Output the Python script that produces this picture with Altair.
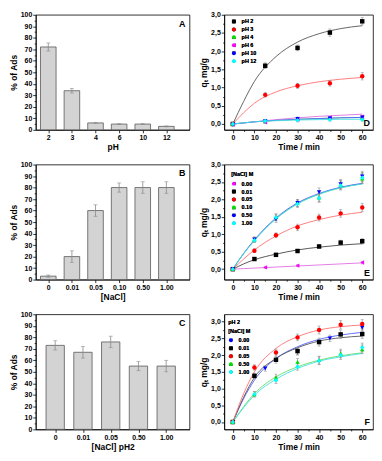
import altair as alt
import pandas as pd

FONT = "Liberation Sans"

# ---------------- Panel A: % adsorption vs pH
ph_cats = ["2", "3", "4", "6", "10", "12"]
ph_ads = [72, 34, 6, 5, 5, 3]
ph_ads_err = [3.5, 2.0, 0.4, 0.4, 0.4, 0.4]

# ---------------- Panel B: % adsorption vs [NaCl]
nacl_cats = ["0", "0.01", "0.05", "0.10", "0.50", "1.00"]
nacl_ads = [3, 20, 60, 80, 80, 80]
nacl_ads_err = [1, 5, 5, 4, 5, 5]

# ---------------- Panel C: % adsorption vs [NaCl] at pH 2
nacl2_cats = ["0", "0.01", "0.05", "0.50", "1.00"]
nacl2_ads = [73, 67, 76, 55, 55]
nacl2_ads_err = [4, 5, 5, 4, 5]

# ---------------- Panel D: kinetics vs pH
d_series = ["pH 2", "pH 3", "pH 4", "pH 6", "pH 10", "pH 12"]
d_time = [0, 15, 30, 45, 60]
d_q_ph2 = [0.00, 1.60, 2.09, 2.51, 2.82]
d_q_ph3 = [0.00, 0.80, 1.05, 1.12, 1.31]
d_q_ph4 = [0.00, 0.07, 0.15, 0.17, 0.18]
d_q_ph6 = [-0.01, 0.05, 0.12, 0.17, 0.20]
d_q_ph10 = [-0.02, 0.08, 0.14, 0.15, 0.18]
d_q_ph12 = [0.00, 0.08, 0.10, 0.12, 0.12]
d_e_ph2 = [0.03, 0.08, 0.08, 0.10, 0.10]
d_e_ph3 = [0.02, 0.06, 0.07, 0.08, 0.10]
d_e_small = [0.03, 0.04, 0.04, 0.04, 0.04]
fit_time = [0, 5, 10, 20, 30, 40, 50, 60]
d_fit_ph2 = [0, 0.62, 1.17, 1.85, 2.25, 2.48, 2.62, 2.70]
d_fit_ph3 = [0, 0.31, 0.57, 0.88, 1.05, 1.16, 1.23, 1.28]
d_fit_ph4 = [0, 0.03, 0.06, 0.10, 0.13, 0.15, 0.17, 0.18]
d_fit_ph6 = [0, 0.03, 0.06, 0.12, 0.17, 0.21, 0.24, 0.27]
d_fit_ph10 = [0, 0.03, 0.06, 0.10, 0.13, 0.15, 0.17, 0.18]
d_fit_ph12 = [0, 0.03, 0.06, 0.09, 0.11, 0.12, 0.13, 0.13]

# ---------------- Panel E: kinetics vs [NaCl]
e_series = ["0.00", "0.01", "0.05", "0.10", "0.50", "1.00"]
e_time_000 = [0, 15, 30, 60]
e_time = [0, 10, 20, 30, 40, 50, 60]
e_q_000 = [0.00, 0.05, 0.10, 0.19]
e_q_001 = [0.00, 0.29, 0.41, 0.52, 0.65, 0.76, 0.80]
e_q_005 = [0.00, 0.53, 0.97, 1.20, 1.48, 1.60, 1.77]
e_q_010 = [0.00, 0.85, 1.50, 1.90, 2.05, 2.42, 2.60]
e_q_050 = [0.00, 0.85, 1.43, 1.90, 2.21, 2.44, 2.66]
e_q_100 = [0.00, 0.83, 1.48, 1.87, 2.04, 2.40, 2.62]
e_e_000 = [0.02, 0.03, 0.03, 0.04]
e_e_001 = [0.02, 0.04, 0.05, 0.05, 0.06, 0.07, 0.08]
e_e_005 = [0.02, 0.05, 0.07, 0.09, 0.10, 0.11, 0.12]
e_e_high = [0.02, 0.07, 0.09, 0.10, 0.12, 0.13, 0.15]
e_fit_000 = [0, 0.015, 0.03, 0.06, 0.09, 0.12, 0.15, 0.18]
e_fit_001 = [0, 0.15, 0.27, 0.43, 0.55, 0.63, 0.69, 0.73]
e_fit_005 = [0, 0.29, 0.55, 0.95, 1.24, 1.42, 1.55, 1.63]
e_fit_010 = [0, 0.45, 0.83, 1.45, 1.88, 2.15, 2.34, 2.45]
e_fit_050 = [0, 0.45, 0.84, 1.47, 1.90, 2.17, 2.35, 2.46]
e_fit_100 = [0, 0.44, 0.82, 1.44, 1.87, 2.15, 2.33, 2.44]

# ---------------- Panel F: kinetics vs [NaCl] at pH 2
f_series = ["0.00", "0.01", "0.05", "0.50", "1.00"]
f_time_000 = [0, 15, 30, 45, 60]
f_time = [0, 10, 20, 30, 40, 50, 60]
f_q_000 = [0.00, 1.60, 2.10, 2.50, 2.82]
f_q_001 = [0.00, 1.38, 1.86, 2.12, 2.39, 2.62, 2.63]
f_q_005 = [0.00, 1.63, 2.08, 2.53, 2.75, 2.91, 2.93]
f_q_050 = [0.00, 0.83, 1.33, 1.80, 1.85, 2.05, 2.17]
f_q_100 = [0.00, 0.83, 1.25, 1.65, 1.83, 2.00, 2.23]
f_e_000 = [0.03, 0.08, 0.10, 0.10, 0.10]
f_e_all = [0.03, 0.08, 0.10, 0.10, 0.12, 0.13, 0.13]
f_fit_000 = [0, 0.70, 1.25, 1.90, 2.25, 2.47, 2.60, 2.68]
f_fit_001 = [0, 0.74, 1.33, 1.90, 2.22, 2.42, 2.52, 2.57]
f_fit_005 = [0, 0.85, 1.50, 2.20, 2.55, 2.75, 2.85, 2.90]
f_fit_050 = [0, 0.46, 0.85, 1.35, 1.65, 1.85, 1.98, 2.07]
f_fit_100 = [0, 0.43, 0.80, 1.28, 1.60, 1.82, 1.95, 2.05]

# ---------------- styles
W1, W2, H = 155, 150, 116
BAR_FILL = "#d3d3d3"
BAR_STROKE = "#5a5a5a"
ERR_COLOR = "#8a8a8a"


def bar_panel(cats, vals, errs, xtitle, letter, xdomain):
    n = len(cats)
    df = pd.DataFrame({"idx": list(range(1, n + 1)), "v": vals, "e": errs})
    arr = "[" + ",".join("'%s'" % c for c in cats) + "]"
    xscale = alt.Scale(domain=xdomain, nice=False, zero=False)
    xaxis = alt.Axis(values=list(range(1, n + 1)), labelExpr=arr + "[datum.value-1]",
                     title=xtitle)
    yscale = alt.Scale(domain=[0, 100], nice=False)
    yaxis = alt.Axis(values=list(range(0, 101, 5)), title="% of Ads", labelOverlap=False,
                     labelExpr="datum.value % 10 === 0 ? datum.label : ''",
                     tickSize={"condition": {"test": "datum.value % 10 !== 0", "value": 1.6},
                               "value": 3})
    base = alt.Chart(df).transform_calculate(
        x0="datum.idx-0.33", x1="datum.idx+0.33", z="0",
        lo="datum.v-datum.e", hi="datum.v+datum.e")
    bars = base.mark_bar(fill=BAR_FILL, stroke=BAR_STROKE, strokeWidth=0.8).encode(
        x=alt.X("x0:Q", scale=xscale, axis=xaxis),
        x2="x1:Q",
        y=alt.Y("v:Q", scale=yscale, axis=yaxis),
        y2="z:Q")
    rule = base.mark_rule(color=ERR_COLOR, strokeWidth=0.8).encode(
        x=alt.X("idx:Q", scale=xscale, axis=xaxis),
        y=alt.Y("lo:Q", scale=yscale, axis=yaxis), y2="hi:Q")
    cap_lo = base.mark_tick(color=ERR_COLOR, orient="horizontal", size=4, thickness=0.8).encode(
        x=alt.X("idx:Q", scale=xscale, axis=xaxis),
        y=alt.Y("lo:Q", scale=yscale, axis=yaxis))
    cap_hi = base.mark_tick(color=ERR_COLOR, orient="horizontal", size=4, thickness=0.8).encode(
        x=alt.X("idx:Q", scale=xscale, axis=xaxis),
        y=alt.Y("hi:Q", scale=yscale, axis=yaxis))
    lab = alt.Chart(pd.DataFrame({"l": [letter]})).mark_text(
        font=FONT, fontSize=9, fontWeight="bold", align="right", baseline="top").encode(
        text="l:N", x=alt.value(W1 - 4), y=alt.value(5))
    return alt.layer(bars, rule, cap_lo, cap_hi, lab).properties(width=W1, height=H)


def long_points(series, times, qs, errs):
    rows = []
    for s, t, q, e in zip(series, times, qs, errs):
        for ti, qi, ei in zip(t, q, e):
            rows.append({"s": s, "t": ti, "q": qi, "e": ei})
    return pd.DataFrame(rows)


def long_fits(series, qs):
    rows = []
    for s, q in zip(series, qs):
        for ti, qi in zip(fit_time, q):
            rows.append({"s": s, "t": ti, "q": qi})
    return pd.DataFrame(rows)


def kin_panel(pts, fits, series, shapes, colors, line_colors, ydomain, letter, legend):
    xscale = alt.Scale(domain=[-4, 65], nice=False, zero=False)
    xaxis = alt.Axis(values=list(range(0, 61, 5)), title="Time / min", labelOverlap=False,
                     labelExpr="datum.value % 10 === 0 ? datum.label : ''",
                     tickSize={"condition": {"test": "datum.value % 10 !== 0", "value": 1.6},
                               "value": 3})
    yscale = alt.Scale(domain=ydomain, nice=False, zero=False)
    yaxis = alt.Axis(values=[i * 0.25 for i in range(13)],
                     labelOverlap=False,
                     labelExpr="abs(datum.value*2 - round(datum.value*2)) > 0.01 ? '' : "
                               "replace(format(datum.value, '.1f'), '.', ',')",
                     tickSize={"condition": {"test": "abs(datum.value*2 - round(datum.value*2)) > 0.01",
                                             "value": 1.6}, "value": 3},
                     title="q\u209c mg/g")
    lines = alt.Chart(fits).mark_line(strokeWidth=0.9, interpolate="monotone").encode(
        x=alt.X("t:Q", scale=xscale, axis=xaxis),
        y=alt.Y("q:Q", scale=yscale, axis=yaxis),
        color=alt.Color("s:N", scale=alt.Scale(domain=series, range=line_colors), legend=None))
    base = alt.Chart(pts).transform_calculate(lo="datum.q-datum.e", hi="datum.q+datum.e")
    rule = base.mark_rule(color=ERR_COLOR, strokeWidth=0.7).encode(
        x=alt.X("t:Q", scale=xscale, axis=xaxis),
        y=alt.Y("lo:Q", scale=yscale, axis=yaxis), y2="hi:Q")
    cap_lo = base.mark_tick(color=ERR_COLOR, orient="horizontal", size=3, thickness=0.7).encode(
        x=alt.X("t:Q", scale=xscale, axis=xaxis),
        y=alt.Y("lo:Q", scale=yscale, axis=yaxis))
    cap_hi = base.mark_tick(color=ERR_COLOR, orient="horizontal", size=3, thickness=0.7).encode(
        x=alt.X("t:Q", scale=xscale, axis=xaxis),
        y=alt.Y("hi:Q", scale=yscale, axis=yaxis))
    points = alt.Chart(pts).mark_point(filled=True, size=20, opacity=1, strokeWidth=0).encode(
        x=alt.X("t:Q", scale=xscale, axis=xaxis),
        y=alt.Y("q:Q", scale=yscale, axis=yaxis),
        color=alt.Color("s:N", scale=alt.Scale(domain=series, range=colors), legend=legend),
        shape=alt.Shape("s:N", scale=alt.Scale(domain=series, range=shapes), legend=legend))
    lab = alt.Chart(pd.DataFrame({"l": [letter]})).mark_text(
        font=FONT, fontSize=9, fontWeight="bold", align="right", baseline="bottom").encode(
        text="l:N", x=alt.value(W2 - 3), y=alt.value(H - 2))
    return alt.layer(lines, rule, cap_lo, cap_hi, points, lab).resolve_scale(
        color="independent").properties(width=W2, height=H)


def mk_legend(title, lx, ly):
    kw = dict(orient="none", legendX=lx, legendY=ly, labelFontSize=5.5, labelFont=FONT,
              symbolSize=16, rowPadding=1, labelOffset=5, symbolStrokeWidth=0,
              padding=0, titleFontSize=5.5, titleFont=FONT, titleFontWeight="bold",
              titlePadding=3, titleLineHeight=9, labelFontWeight="bold")
    if title is None:
        return alt.Legend(title=None, **kw)
    return alt.Legend(title=title, **kw)


# ---- Panel D
d_pts = long_points(
    d_series, [d_time] * 6,
    [d_q_ph2, d_q_ph3, d_q_ph4, d_q_ph6, d_q_ph10, d_q_ph12],
    [d_e_ph2, d_e_ph3, d_e_small, d_e_small, d_e_small, d_e_small])
d_fits = long_fits(d_series, [d_fit_ph2, d_fit_ph3, d_fit_ph4, d_fit_ph6, d_fit_ph10, d_fit_ph12])
panel_d = kin_panel(
    d_pts, d_fits, d_series,
    ["square", "circle", "triangle-up", "triangle-left", "triangle-down", "diamond"],
    ["#000000", "#ff0000", "#00dd00", "#ff00ff", "#0000ff", "#00ffff"],
    ["#555555", "#ff7070", "#66dd66", "#e070e0", "#5060ff", "#40e0e0"],
    [-0.16, 3.0], "D", mk_legend(None, 7, 4))

# ---- Panel E
e_pts = long_points(
    e_series, [e_time_000] + [e_time] * 5,
    [e_q_000, e_q_001, e_q_005, e_q_010, e_q_050, e_q_100],
    [e_e_000, e_e_001, e_e_005, e_e_high, e_e_high, e_e_high])
e_fits = long_fits(e_series, [e_fit_000, e_fit_001, e_fit_005, e_fit_010, e_fit_050, e_fit_100])
panel_e = kin_panel(
    e_pts, e_fits, e_series,
    ["triangle-left", "square", "circle", "triangle-up", "triangle-down", "diamond"],
    ["#ff00ff", "#000000", "#ff0000", "#00dd00", "#0000ff", "#00ffff"],
    ["#e070e0", "#444444", "#ff7070", "#66dd66", "#5060ff", "#40e0e0"],
    [-0.3, 3.0], "E", mk_legend("[NaCl] M", 7, 8))

# ---- Panel F
f_pts = long_points(
    f_series, [f_time_000] + [f_time] * 4,
    [f_q_000, f_q_001, f_q_005, f_q_050, f_q_100],
    [f_e_000, f_e_all, f_e_all, f_e_all, f_e_all])
f_fits = long_fits(f_series, [f_fit_000, f_fit_001, f_fit_005, f_fit_050, f_fit_100])
panel_f = kin_panel(
    f_pts, f_fits, f_series,
    ["triangle-down", "square", "circle", "triangle-up", "diamond"],
    ["#0000ff", "#000000", "#ff0000", "#00dd00", "#00ffff"],
    ["#5060ff", "#555555", "#ff7070", "#66dd66", "#40e0e0"],
    [-0.22, 3.22], "F", mk_legend(["pH 2", "[NaCl] M"], 4, 6))

panel_a = bar_panel(ph_cats, ph_ads, ph_ads_err, "pH", "A", [0.47, 6.98])
panel_b = bar_panel(nacl_cats, nacl_ads, nacl_ads_err, "[NaCl]", "B", [0.47, 6.98])
panel_c = bar_panel(nacl2_cats, nacl2_ads, nacl2_ads_err, "[NaCl] pH2", "C", [0.3, 5.84])

IND = dict(color="independent", shape="independent")
row1 = alt.hconcat(panel_a, panel_d, spacing=8).resolve_scale(**IND).resolve_legend(
    color="independent", shape="independent")
row2 = alt.hconcat(panel_b, panel_e, spacing=8).resolve_scale(**IND).resolve_legend(
    color="independent", shape="independent")
row3 = alt.hconcat(panel_c, panel_f, spacing=8).resolve_scale(**IND).resolve_legend(
    color="independent", shape="independent")

chart = alt.vconcat(row1, row2, row3, spacing=8).resolve_scale(**IND).resolve_legend(
    color="independent", shape="independent").properties(
    padding={"left": 0, "top": 0, "right": 0, "bottom": 0}
).configure(font=FONT).configure_axis(
    labelFont=FONT, titleFont=FONT, labelFontSize=7, titleFontSize=8.5,
    labelFontWeight="bold", titleFontWeight="bold", labelColor="black", titleColor="black",
    domainColor="black", tickColor="black", domainWidth=0.8, tickWidth=0.8,
    tickSize=3, labelPadding=1, titlePadding=2, grid=False
).configure_view(stroke="black", strokeWidth=0.8)

chart.save("out.html", embed_options={"renderer": "svg", "actions": False})
